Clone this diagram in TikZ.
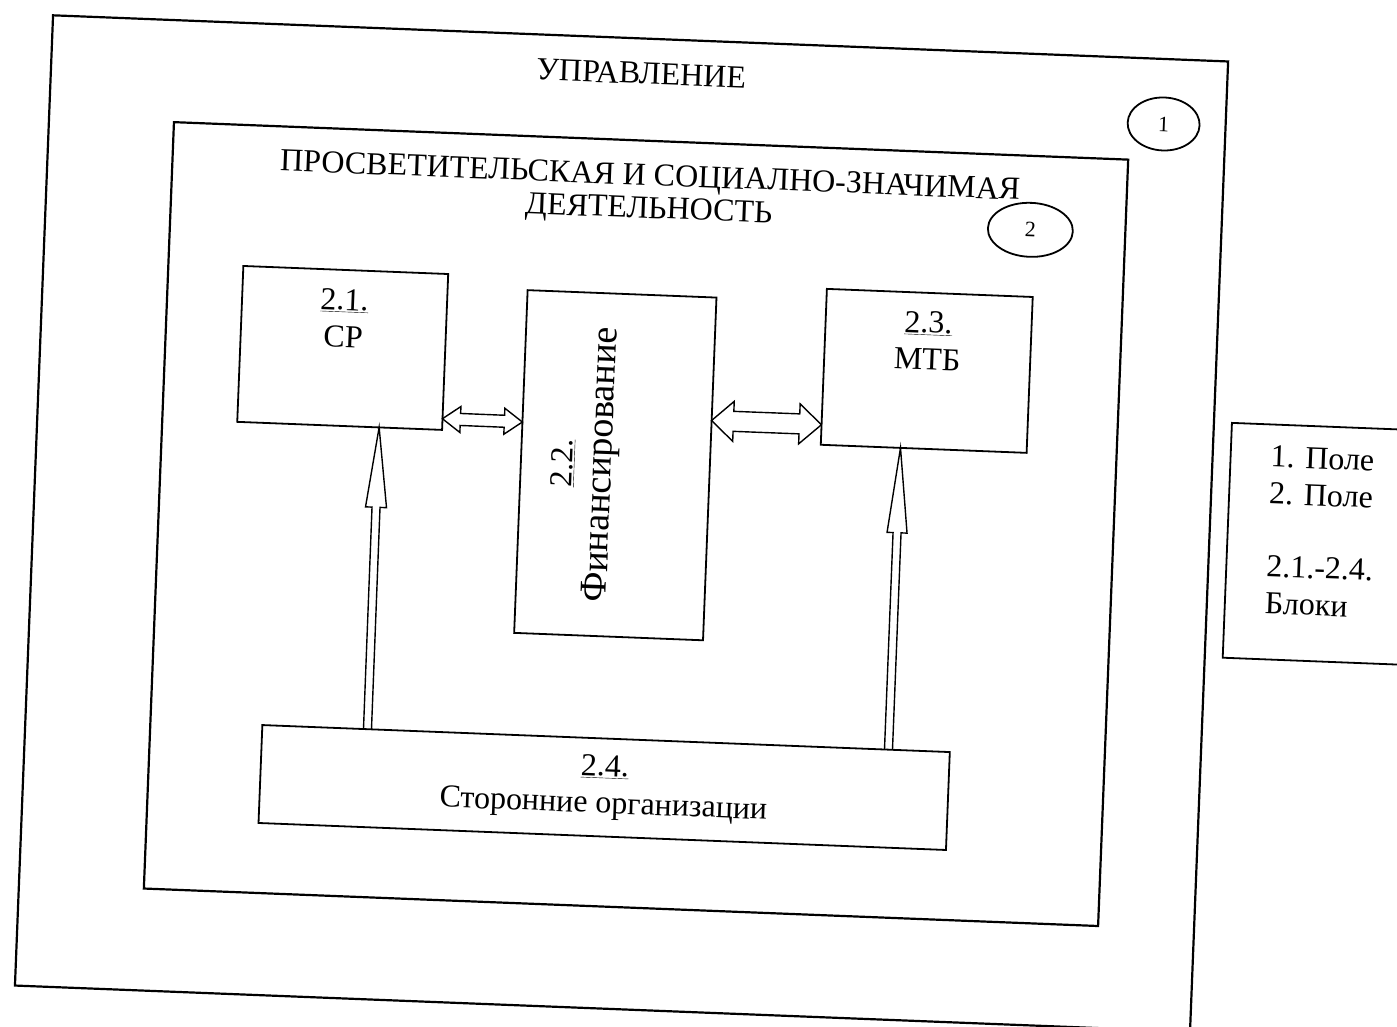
\documentclass[tikz,border=0pt]{standalone}
\usepackage{fontspec}
\setmainfont{Liberation Serif}
\usetikzlibrary{calc,shapes.geometric}

\tikzset{
  field/.style={draw, line width=2.2pt, inner sep=0pt, outer sep=0pt},
  box/.style={draw, line width=1.8pt, inner sep=0pt, outer sep=0pt},
  ring/.style={draw, ellipse, line width=1.8pt, inner sep=0pt, font=\fontsize{22}{24}\selectfont},
  arrowline/.style={line width=1.4pt},
  txt/.style={inner sep=0pt, align=center},
}

% hollow arrow: from #1 to #2, half shaft #3, half head #4, head length #5
\newcommand{\hollowarrow}[5]{%
  \coordinate (ha-neck) at ($(#2)!#5!(#1)$);
  \draw[arrowline] ($(#1)!#3!90:(#2)$) -- ($(ha-neck)!#3!-90:(#1)$) -- ($(ha-neck)!#4!-90:(#1)$)
    -- (#2) -- ($(ha-neck)!#4!90:(#1)$) -- ($(ha-neck)!#3!90:(#1)$) -- ($(#1)!#3!-90:(#2)$);
}
% hollow double arrow between #1 and #2
\newcommand{\hollowdblarrow}[5]{%
  \coordinate (hd-a) at ($(#1)!#5!(#2)$);
  \coordinate (hd-b) at ($(#2)!#5!(#1)$);
  \draw[arrowline] (#1) -- ($(hd-a)!#4!90:(#2)$) -- ($(hd-a)!#3!90:(#2)$) -- ($(hd-b)!#3!-90:(#1)$)
    -- ($(hd-b)!#4!-90:(#1)$) -- (#2) -- ($(hd-b)!#4!90:(#1)$) -- ($(hd-b)!#3!90:(#1)$)
    -- ($(hd-a)!#3!-90:(#2)$) -- ($(hd-a)!#4!-90:(#2)$) -- cycle;
}

\begin{document}
\begin{tikzpicture}[x=1pt, y=-1pt, font=\fontsize{32}{37}\selectfont]
  \useasboundingbox (0,0) rectangle (1397,1027);
  \clip (0,0) rectangle (1397,1027);
  \fill[white] (0,0) rectangle (1397,1027);

  \begin{scope}[rotate around={-2.25:(698,513)}, transform shape]
  % Define coordinates for nodes
  \node[field, minimum width=1176pt, minimum height=971pt] (field1) at (622,526.5) {};
  \node[field, minimum width=955pt, minimum height=767pt] (field2) at (636.5,526.5) {};
  \node (upr) at (624,76) {УПРАВЛЕНИЕ};
  \node[txt, anchor=north] (title2) at (637,166) {ПРОСВЕТИТЕЛЬСКАЯ И СОЦИАЛНО-ЗНАЧИМАЯ\\[-4pt]ДЕЯТЕЛЬНОСТЬ};
  \node[ring, minimum width=72pt, minimum height=53pt] (c1) at (1148,106) {1};
  \node[ring, minimum width=85pt, minimum height=54pt] (c2) at (1019,217) {2};

  \node[box, minimum width=205pt, minimum height=156pt] (sr) at (336.5,362) {};
  \node[box, minimum width=189pt, minimum height=343pt] (fin) at (613.5,468.5) {};
  \node[box, minimum width=206pt, minimum height=156pt] (mtb) at (921,362) {};
  \node[box, minimum width=688pt, minimum height=98pt] (org) at (615,791) {};
  \node[box, minimum width=212pt, minimum height=235pt] (legend) at (1334,519.5) {};

  \node[txt, anchor=north] (srlabel) at ($(sr.north)!0.12!(sr.south)$) {\underline{2.1.}\\СР};
  \node[txt, anchor=north] (mtblabel) at ($(mtb.north)!0.12!(mtb.south)$) {\underline{2.3.}\\МТБ};
  \node[txt, rotate=90] (finlabel) at ($(fin.center)!30pt!(fin.west)$)
    {\underline{2.2.}\\[2pt]{\fontsize{38}{40}\selectfont Финансирование}};
  \node[txt] (orglabel) at (org.center) {\underline{2.4.}\\Сторонние организации};
  \node[txt, align=left, anchor=north west] (legendtext) at (1268,423)
    {1. Поле\\2. Поле\\[36pt]2.1.-2.4.\\Блоки};

  % Draw arrows between nodes
  \coordinate (srin) at ($(sr.south west)!0.693!(sr.south east)$);
  \coordinate (orgout1) at ($(org.north west)!0.153!(org.north east)$);
  \hollowarrow{orgout1}{srin}{4pt}{10.5pt}{80pt}
  \coordinate (mtbin) at ($(mtb.south west)!0.388!(mtb.south east)$);
  \coordinate (orgout2) at ($(org.north west)!0.911!(org.north east)$);
  \hollowarrow{orgout2}{mtbin}{4pt}{10pt}{85pt}
  \coordinate (srr) at ($(sr.north east)!0.929!(sr.south east)$);
  \coordinate (finl) at ($(fin.north west)!0.385!(fin.south west)$);
  \hollowdblarrow{srr}{finl}{6pt}{13pt}{18pt}
  \coordinate (finr) at ($(fin.north east)!0.359!(fin.south east)$);
  \coordinate (mtbl) at ($(mtb.north west)!0.872!(mtb.south west)$);
  \hollowdblarrow{finr}{mtbl}{10pt}{20pt}{22pt}
  \end{scope}
\end{tikzpicture}
\end{document}
